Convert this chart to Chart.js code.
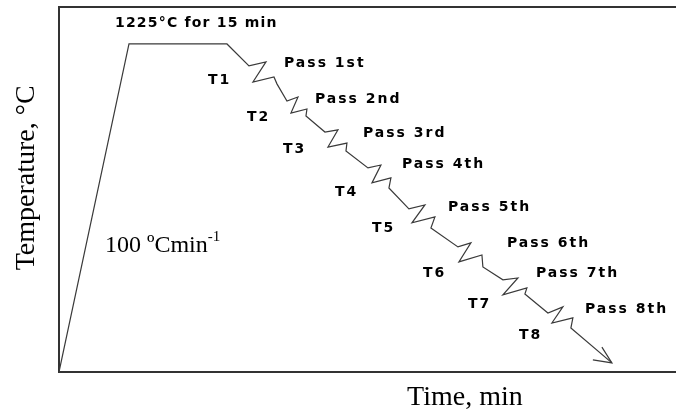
<!DOCTYPE html>
<html>
<head>
<meta charset="utf-8">
<script src="https://cdn.jsdelivr.net/npm/chart.js@4"></script>
<style>
  body { margin: 0; background: #fff; }
</style>
</head>
<body>
<canvas id="profileChart" width="676" height="410"></canvas>
<script>
// heating, soaking and rolling schedule (time in min, temperature in °C)
const heatTime = [0, 12.25, 29.4];
const heatTemp = [0, 1225, 1225];

// each pass drawn as a small zigzag on the cooling line
const passTime = [
    [33.25, 36.23, 33.95, 37.63, 38.15],
    [39.90, 41.83, 40.60, 43.40, 43.23],
    [46.55, 48.83, 47.08, 50.40, 50.23],
    [54.08, 56.35, 54.78, 58.10, 57.75],
    [61.25, 64.05, 61.78, 65.80, 65.10],
    [69.83, 72.10, 70.00, 74.03, 74.20],
    [77.70, 80.33, 77.70, 81.90, 81.55],
    [85.58, 88.20, 86.28, 89.95, 89.60]
];
const passTemp = [
    [1143, 1158, 1083, 1102, 1076],
    [1012, 1027, 967, 982, 956],
    [896, 904, 840, 855, 825],
    [762, 773, 706, 725, 687],
    [609, 624, 557, 579, 538],
    [467, 482, 411, 437, 392],
    [344, 351, 288, 314, 291],
    [220, 243, 183, 202, 164]
];
const endTime = 96.78;
const endTemp = 34;
const arrowTime = [95.03, 96.78, 93.45];
const arrowTemp = [93, 34, 45];

const passNames = ['Pass 1st', 'Pass 2nd', 'Pass 3rd', 'Pass 4th', 'Pass 5th', 'Pass 6th', 'Pass 7th', 'Pass 8th'];
const tempNames = ['T1', 'T2', 'T3', 'T4', 'T5', 'T6', 'T7', 'T8'];

// label anchors (left edge / baseline) in data units
const passLabelAt = [[39.38, 1139], [44.80, 1005], [53.20, 878], [60.03, 762], [68.08, 601], [78.40, 467], [83.48, 355], [92.05, 220]];
const tempLabelAt = [[26.08, 1076], [32.90, 937], [39.20, 818], [48.30, 657], [54.78, 523], [63.70, 355], [71.58, 239], [80.50, 123]];

const profile = [];
heatTime.forEach((t, i) => profile.push({ x: t, y: heatTemp[i] }));
passTime.forEach((row, p) => row.forEach((t, i) => profile.push({ x: t, y: passTemp[p][i] })));
profile.push({ x: endTime, y: endTemp });
const arrow = arrowTime.map((t, i) => ({ x: t, y: arrowTemp[i] }));

const lineColor = '#3a3a3a';
const frameColor = '#333';

const labelsPlugin = {
    id: 'labels',
    afterDraw(chart) {
        const ctx = chart.ctx;
        const xs = chart.scales.x, ys = chart.scales.y;
        const area = chart.chartArea;
        const px = v => xs.getPixelForValue(v);
        const py = v => ys.getPixelForValue(v);
        ctx.save();
        ctx.fillStyle = '#000';
        ctx.textBaseline = 'alphabetic';
        ctx.textAlign = 'left';

        ctx.font = 'bold 14px "DejaVu Sans"';
        ctx.letterSpacing = '1.2px';
        ctx.fillText('1225°C for 15 min', px(9.8), py(1287));

        ctx.letterSpacing = '2px';
        passNames.forEach((s, i) => ctx.fillText(s, px(passLabelAt[i][0]), py(passLabelAt[i][1])));
        tempNames.forEach((s, i) => ctx.fillText(s, px(tempLabelAt[i][0]), py(tempLabelAt[i][1])));
        ctx.letterSpacing = '0px';

        // heating rate
        ctx.font = '24px "Liberation Serif"';
        const rx = px(8.05), ry = py(448);
        const main = '100 ºCmin';
        ctx.fillText(main, rx, ry);
        const w = ctx.measureText(main).width;
        ctx.font = '15px "Liberation Serif"';
        ctx.fillText('-1', rx + w, ry - 11);

        // axis titles
        ctx.font = '28px "Liberation Serif"';
        ctx.textAlign = 'center';
        ctx.fillText('Time, min', px(71.05), area.bottom + 33);
        ctx.save();
        ctx.translate(area.left - 32, py(725));
        ctx.rotate(-Math.PI / 2);
        ctx.textBaseline = 'middle';
        ctx.fillText('Temperature, °C', 0, 0);
        ctx.restore();
        ctx.restore();
    }
};

const axisBase = {
    type: 'linear',
    grid: { display: false, drawTicks: false },
    ticks: { display: false },
    border: { display: true, color: frameColor, width: 2 }
};

const chart = new Chart(document.getElementById('profileChart').getContext('2d'), {
    type: 'scatter',
    data: {
        datasets: [{
            data: profile,
            showLine: true,
            borderColor: lineColor,
            borderWidth: 1.2,
            pointRadius: 0,
            tension: 0
        }, {
            data: arrow,
            showLine: true,
            borderColor: lineColor,
            borderWidth: 1.2,
            pointRadius: 0,
            tension: 0
        }]
    },
    options: {
        responsive: false,
        animation: false,
        layout: { padding: { left: 59, top: 7, right: 0, bottom: 38 } },
        plugins: { legend: { display: false }, tooltip: { enabled: false } },
        scales: {
            x: { ...axisBase, position: 'bottom', min: 0, max: 108 },
            xTop: { ...axisBase, position: 'top', min: 0, max: 108 },
            y: { ...axisBase, position: 'left', min: 0, max: 1363 }
        }
    },
    plugins: [labelsPlugin]
});
</script>
</body>
</html>
